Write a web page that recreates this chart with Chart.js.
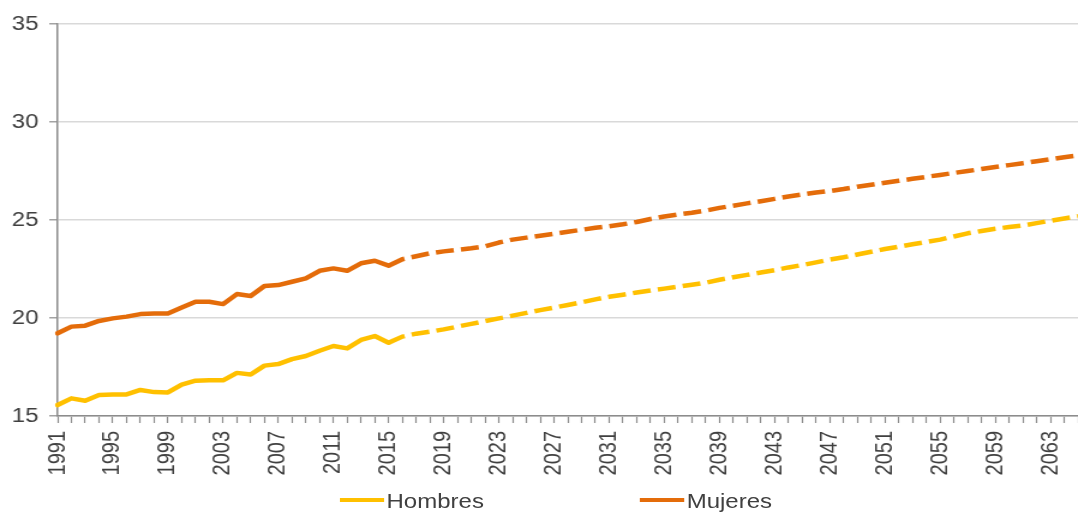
<!DOCTYPE html>
<html lang="es">
<head>
<meta charset="utf-8">
<title>Edad media</title>
<script src="https://cdn.jsdelivr.net/npm/chart.js@4.4.1/dist/chart.umd.min.js"></script>
<style>
  html, body { margin: 0; padding: 0; background: #fff; overflow: hidden; }
  #wrap {
    position: absolute; left: 0; top: 0;
    width: 898px; height: 513px;
    transform: scaleX(1.2004); transform-origin: 0 0;
  }
  #chart { position: absolute; left: 0; top: 0; }
  .leg { position: absolute; font: 20px "Liberation Sans", Arial, sans-serif; color: #404040; line-height: 20px; white-space: nowrap; }
  .sw { position: absolute; height: 4px; width: 37px; }
</style>
</head>
<body>
<div id="wrap">
  <canvas id="chart" width="898" height="513"></canvas>
  <div class="sw" style="left:283px; top:498px; background:#FFC000"></div>
  <div class="leg" style="left:322px; top:491px">Hombres</div>
  <div class="sw" style="left:533px; top:498px; background:#E46C0A"></div>
  <div class="leg" style="left:572px; top:491px">Mujeres</div>
</div>
<script>
// Años del eje horizontal
const years = [
  1991, 1992, 1993, 1994, 1995, 1996, 1997, 1998, 1999, 2000,
  2001, 2002, 2003, 2004, 2005, 2006, 2007, 2008, 2009, 2010,
  2011, 2012, 2013, 2014, 2015, 2016, 2017, 2018, 2019, 2020,
  2021, 2022, 2023, 2024, 2025, 2026, 2027, 2028, 2029, 2030,
  2031, 2032, 2033, 2034, 2035, 2036, 2037, 2038, 2039, 2040,
  2041, 2042, 2043, 2044, 2045, 2046, 2047, 2048, 2049, 2050,
  2051, 2052, 2053, 2054, 2055, 2056, 2057, 2058, 2059, 2060,
  2061, 2062, 2063, 2064, 2065
];
// Años que llevan rótulo
const labeledYears = [1991, 1995, 1999, 2003, 2007, 2011, 2015, 2019, 2023, 2027,
  2031, 2035, 2039, 2043, 2047, 2051, 2055, 2059, 2063];
const yTicks = [15, 20, 25, 30, 35];

// Serie observada 1991-2015
const hombresObs = [15.56, 15.90, 15.78, 16.07, 16.10, 16.10, 16.33, 16.22, 16.20, 16.60,
  16.80, 16.82, 16.82, 17.20, 17.12, 17.57, 17.65, 17.90, 18.06, 18.33,
  18.57, 18.45, 18.88, 19.08, 18.74];
const mujeresObs = [19.22, 19.56, 19.61, 19.85, 19.98, 20.07, 20.20, 20.23, 20.23, 20.53,
  20.83, 20.83, 20.71, 21.22, 21.12, 21.63, 21.68, 21.85, 22.02, 22.41,
  22.53, 22.41, 22.79, 22.92, 22.67];

// Proyección 2015-2065
const hombresProy = [18.74, 19.05, 19.20, 19.30, 19.42, 19.56, 19.70, 19.84, 19.98, 20.12,
  20.26, 20.40, 20.53, 20.66, 20.80, 20.95, 21.08, 21.19, 21.30, 21.40,
  21.50, 21.60, 21.70, 21.80, 21.95, 22.08, 22.20, 22.32, 22.44, 22.58,
  22.70, 22.84, 22.98, 23.10, 23.24, 23.38, 23.52, 23.64, 23.76, 23.88,
  24.00, 24.16, 24.32, 24.44, 24.55, 24.64, 24.72, 24.84, 24.96, 25.08, 25.20];
const mujeresProy = [22.67, 23.00, 23.15, 23.30, 23.40, 23.48, 23.56, 23.66, 23.85, 24.00,
  24.10, 24.20, 24.30, 24.40, 24.50, 24.60, 24.68, 24.78, 24.90, 25.05,
  25.18, 25.28, 25.37, 25.48, 25.62, 25.73, 25.85, 25.96, 26.08, 26.20,
  26.30, 26.40, 26.48, 26.58, 26.70, 26.80, 26.90, 27.00, 27.10, 27.20,
  27.30, 27.40, 27.50, 27.60, 27.70, 27.80, 27.90, 28.00, 28.10, 28.20, 28.30];

const COL_H = '#FFC000';
const COL_M = '#E46C0A';
const AXIS = '#8c8c8c';
const TEXT = '#404040';
const FONT = { family: '"Liberation Sans", Arial, sans-serif', size: 20 };

// Rellena con null para alinear cada tramo con el eje de años
const padObs = arr => years.map((y, i) => i < arr.length ? arr[i] : null);
const projStart = years.indexOf(2015);
const padProy = arr => years.map((y, i) => i >= projStart ? arr[i - projStart] : null);

const lineBase = { pointRadius: 0, pointHoverRadius: 0, tension: 0, borderWidth: 4.5, fill: false, borderJoinStyle: 'round', spanGaps: false };

new Chart(document.getElementById('chart'), {
  type: 'line',
  data: {
    labels: years,
    datasets: [
      Object.assign({ label: 'Hombres', data: padObs(hombresObs), borderColor: COL_H, backgroundColor: COL_H, borderCapStyle: 'round' }, lineBase),
      Object.assign({ label: 'Mujeres', data: padObs(mujeresObs), borderColor: COL_M, backgroundColor: COL_M, borderCapStyle: 'round' }, lineBase),
      Object.assign({ label: 'Hombres (proyección)', data: padProy(hombresProy), borderColor: COL_H, backgroundColor: COL_H, borderDash: [15, 6] }, lineBase),
      Object.assign({ label: 'Mujeres (proyección)', data: padProy(mujeresProy), borderColor: COL_M, backgroundColor: COL_M, borderDash: [15, 6] }, lineBase)
    ]
  },
  options: {
    responsive: false,
    animation: false,
    devicePixelRatio: 1,
    layout: { padding: { top: 24, right: 0, bottom: 0, left: 0 } },
    plugins: { legend: { display: false }, tooltip: { enabled: false } },
    scales: {
      x: {
        type: 'category',
        offset: false,
        grid: { display: true, drawOnChartArea: false, drawTicks: true, tickLength: 7, tickColor: AXIS, tickWidth: 1.2, offset: false },
        border: { color: AXIS, width: 1.5 },
        ticks: {
          autoSkip: false, maxRotation: 90, minRotation: 90, padding: 8,
          color: TEXT, font: FONT,
          callback: function (value) {
            const yr = years[value];
            return labeledYears.includes(yr) ? String(yr) : '';
          }
        },
        afterFit: s => { s.height = 97; s.paddingLeft = 0; s.paddingRight = 0; }
      },
      y: {
        min: 15, max: 35,
        afterBuildTicks: s => { s.ticks = yTicks.map(v => ({ value: v })); },
        grid: { color: '#d9d9d9', lineWidth: 1.6, tickLength: 7, tickColor: AXIS, tickWidth: 1.2 },
        border: { color: AXIS, width: 1.5 },
        ticks: { padding: 9, color: TEXT, font: FONT },
        afterFit: s => { s.width = 48; }
      }
    }
  }
});
</script>
</body>
</html>
